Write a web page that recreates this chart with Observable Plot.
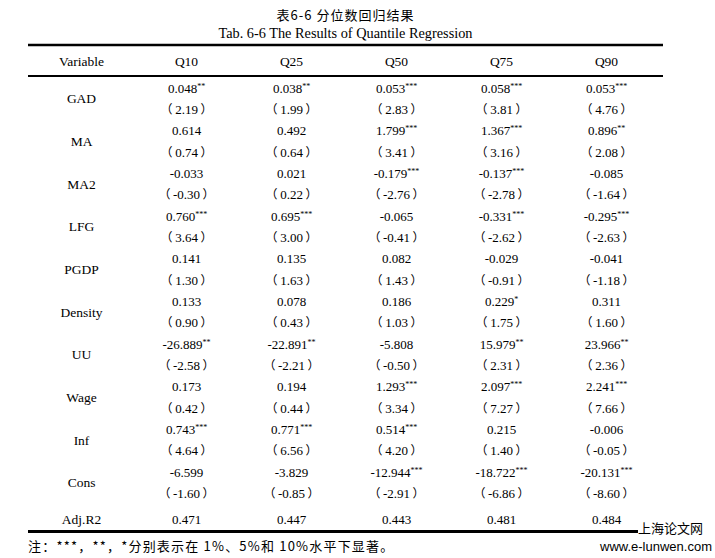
<!DOCTYPE html>
<html><head><meta charset="utf-8">
<script src="https://cdn.jsdelivr.net/npm/d3@7"></script>
<script src="https://cdn.jsdelivr.net/npm/@observablehq/plot@0.6"></script>
<style>
body{margin:0;background:#fff;width:715px;height:558px;position:relative;overflow:hidden;color:#000;}
#title{width:691px;height:25px;padding-top:5px;box-sizing:border-box;line-height:20px;text-align:center;font-family:"Noto Sans CJK SC";font-size:13px;letter-spacing:1px;}
#sub{width:691px;height:16px;line-height:16px;text-align:center;font-family:"Liberation Serif";font-size:14.3px;}
#chart{height:495px;}
#note{position:absolute;left:28px;top:536px;line-height:20px;font-family:"Noto Sans CJK SC";font-size:13px;letter-spacing:1.2px;}
#wm1{position:absolute;left:638px;top:518px;background:#fff;font-family:"Noto Sans CJK SC";font-size:13px;line-height:19px;padding-right:4px;}
#wm2{position:absolute;left:600px;top:539px;font-family:"Liberation Sans";font-size:13px;line-height:16px;}
</style></head>
<body>
<div id="title">表6-6 分位数回归结果</div>
<div id="sub">Tab. 6-6 The Results of Quantile Regression</div>
<div id="chart"></div>
<div id="note">注：***，**，*分别表示在 1%、5%和 10%水平下显著。</div>
<div id="wm1">上海论文网</div>
<div id="wm2">www.e-lunwen.com</div>
<script>
const variables = ["GAD","MA","MA2","LFG","PGDP","Density","UU","Wage","Inf","Cons"];
const quantiles = ["Q10","Q25","Q50","Q75","Q90"];
const headerLabel = "Variable";
const fitLabel = "Adj.R2";

const coefQ10 = [0.048, 0.614, -0.033, 0.760, 0.141, 0.133, -26.889, 0.173, 0.743, -6.599];
const starsQ10 = [2, 0, 0, 3, 0, 0, 2, 0, 3, 0];
const tQ10 = [2.19, 0.74, -0.30, 3.64, 1.30, 0.90, -2.58, 0.42, 4.64, -1.60];

const coefQ25 = [0.038, 0.492, 0.021, 0.695, 0.135, 0.078, -22.891, 0.194, 0.771, -3.829];
const starsQ25 = [2, 0, 0, 3, 0, 0, 2, 0, 3, 0];
const tQ25 = [1.99, 0.64, 0.22, 3.00, 1.63, 0.43, -2.21, 0.44, 6.56, -0.85];

const coefQ50 = [0.053, 1.799, -0.179, -0.065, 0.082, 0.186, -5.808, 1.293, 0.514, -12.944];
const starsQ50 = [3, 3, 3, 0, 0, 0, 0, 3, 3, 3];
const tQ50 = [2.83, 3.41, -2.76, -0.41, 1.43, 1.03, -0.50, 3.34, 4.20, -2.91];

const coefQ75 = [0.058, 1.367, -0.137, -0.331, -0.029, 0.229, 15.979, 2.097, 0.215, -18.722];
const starsQ75 = [3, 3, 3, 3, 0, 1, 2, 3, 0, 3];
const tQ75 = [3.81, 3.16, -2.78, -2.62, -0.91, 1.75, 2.31, 7.27, 1.40, -6.86];

const coefQ90 = [0.053, 0.896, -0.085, -0.295, -0.041, 0.311, 23.966, 2.241, -0.006, -20.131];
const starsQ90 = [3, 2, 0, 3, 0, 0, 2, 3, 0, 3];
const tQ90 = [4.76, 2.08, -1.64, -2.63, -1.18, 1.60, 2.36, 7.66, -0.05, -8.60];

const adjR2 = [0.471, 0.447, 0.443, 0.481, 0.484];

const coefs = [coefQ10, coefQ25, coefQ50, coefQ75, coefQ90];
const stars = [starsQ10, starsQ25, starsQ50, starsQ75, starsQ90];
const tstats = [tQ10, tQ25, tQ50, tQ75, tQ90];

// layout (row units)
const headerPos = -1.27, fitPos = 20.2;
const topRule = -2.04, headRule = -0.59, bottomRule = 20.77;

const cols = [headerLabel, ...quantiles];
const labelCells = [], numCells = [];
cols.forEach(c => labelCells.push({col: c, pos: headerPos, text: c}));
variables.forEach((v, i) => {
  labelCells.push({col: headerLabel, pos: 2 * i + 0.5, text: v});
  quantiles.forEach((q, j) => {
    numCells.push({col: q, pos: 2 * i, text: coefs[j][i].toFixed(3) + "*".repeat(stars[j][i])});
    numCells.push({col: q, pos: 2 * i + 1, text: "（" + tstats[j][i].toFixed(2) + "）"});
  });
});
labelCells.push({col: headerLabel, pos: fitPos, text: fitLabel});
quantiles.forEach((q, j) => numCells.push({col: q, pos: fitPos, text: adjR2[j].toFixed(3)}));

const svg = Plot.plot({
  width: 715, height: 495,
  marginLeft: 28, marginRight: 52, marginTop: 0, marginBottom: 0,
  style: {fontFamily: "'Liberation Serif'", fontSize: "13px", background: "white", color: "black"},
  x: {type: "point", domain: cols, range: [81, 606], padding: 0, axis: null},
  y: {domain: [0, 19], range: [47, 452.33], axis: null},
  marks: [
    Plot.ruleY([topRule], {stroke: "black", strokeWidth: 2.6}),
    Plot.ruleY([headRule], {stroke: "black", strokeWidth: 2}),
    Plot.ruleY([bottomRule], {stroke: "black", strokeWidth: 3}),
    Plot.text(labelCells, {x: "col", y: "pos", text: "text", fontSize: 13.5, fill: "black", textAnchor: "middle", lineAnchor: "middle"}),
    Plot.text(numCells, {x: "col", y: "pos", text: "text", fontSize: 13, fill: "black", textAnchor: "middle", lineAnchor: "middle"})
  ]
});

d3.select(svg).selectAll("text").each(function() {
  const t = this.textContent;
  const m = t.match(/^(.*?)(\*+)$/);
  const p = t.match(/^（(.*)）$/);
  const s = d3.select(this);
  if (m) {
    this.textContent = "";
    s.append("tspan").text(m[1]);
    s.append("tspan").attr("font-size", 8).attr("dy", "-4").text(m[2]);
  } else if (p) {
    this.textContent = "";
    s.append("tspan").attr("font-family", "Noto Sans CJK SC").attr("font-size", 12).text("（");
    s.append("tspan").attr("dx", 2.5).text(p[1]);
    s.append("tspan").attr("dx", 2.5).attr("font-family", "Noto Sans CJK SC").attr("font-size", 12).text("）");
  }
});
document.getElementById("chart").appendChild(svg);
</script>
</body></html>
